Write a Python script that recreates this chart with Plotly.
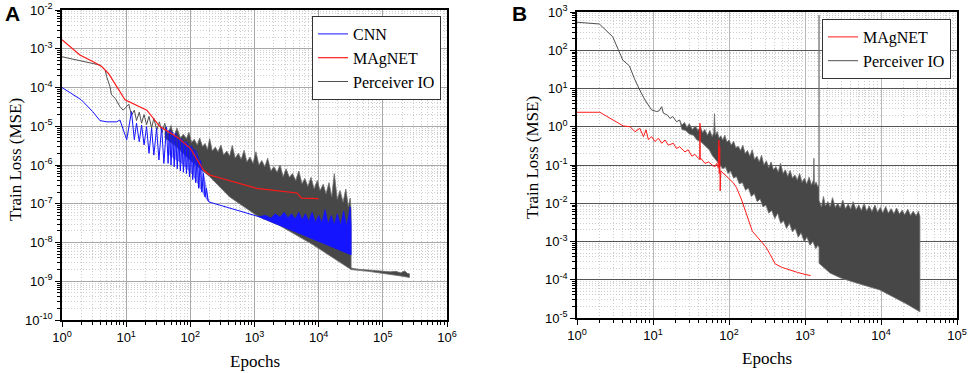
import plotly.graph_objects as go

W, H = 969, 373

# ---------------- Panel A data ----------------
a_cnn_x = [1, 2, 3, 3.9, 5, 6, 7.1, 8.0, 9.0, 10.2, 12.1, 13.4, 14.5, 16, 17.4, 19, 20.8, 22.7, 24.9,
           27, 29.8, 32.4, 35.7, 38.7, 42.5, 45, 47.5, 50, 53, 56, 59, 62.5, 66, 70, 74, 78, 82.5, 87,
           92, 97, 103, 109, 115, 121, 128, 135, 143, 151, 160, 169, 178, 189, 200, 1140]
a_cnn_y = [1e-4, 4.8e-5, 2.4e-5, 1.4e-5, 1.3e-5, 1.3e-5, 1.3e-5, 1.45e-5, 8e-6, 4.5e-6, 2.4e-5, 4.5e-6,
           1.2e-5, 4.0e-6, 1.07e-5, 3.3e-6, 9.8e-6, 2.0e-6, 8.9e-6, 1.8e-6, 8.8e-6, 1.35e-6, 9.6e-6,
           1.1e-6, 9.6e-6, 1.1e-6, 8e-6, 1.0e-6, 7e-6, 9e-7, 6.5e-6, 8e-7, 5e-6, 7e-7, 4.5e-6, 6.5e-7,
           4e-6, 6e-7, 3.5e-6, 5e-7, 3e-6, 4.2e-7, 2.5e-6, 3.5e-7, 1.8e-6, 2.5e-7, 1.3e-6, 2e-7, 6e-7,
           1.5e-7, 2.5e-7, 1.2e-7, 1.1e-7, 4.7e-8]
# dense oscillation envelope, epochs ~45-200
a_cnn_osc_hi_x = [45, 50, 55, 60, 66, 72, 80, 88, 97, 105, 115, 125, 135, 145, 155, 165, 178, 190, 200]
a_cnn_osc_hi_y = [8e-6, 7.5e-6, 5.5e-6, 6.5e-6, 4.5e-6, 5e-6, 3.5e-6, 4e-6, 2.8e-6, 3.2e-6, 2.2e-6,
                  2.4e-6, 1.5e-6, 1.3e-6, 8e-7, 5e-7, 2.5e-7, 1.3e-7, 1.1e-7]
a_cnn_osc_lo_x = [45, 55, 70, 90, 110, 130, 150, 170, 190, 200]
a_cnn_osc_lo_y = [2e-6, 1.5e-6, 1.2e-6, 8e-7, 5.5e-7, 3.5e-7, 2.2e-7, 1.5e-7, 1.15e-7, 1.1e-7]
# late noisy band, epochs ~1e3-3.2e4
a_cnn_hi_x = [1140, 1200, 1500, 1800, 2100, 2500, 2900, 3300, 3800, 4300, 4900, 5500, 6200, 7000, 7900,
              8900, 10000, 11200, 12600, 14000, 15800, 17500, 19500, 22000, 24500, 27000, 29500, 31000, 32000]
a_cnn_hi_y = [4.7e-8, 4.7e-8, 5e-8, 4.2e-8, 5.5e-8, 4.5e-8, 6e-8, 4.3e-8, 5.5e-8, 4e-8, 6e-8, 3.8e-8,
              5.5e-8, 3.5e-8, 6e-8, 3.3e-8, 5e-8, 3.2e-8, 7e-8, 3e-8, 5e-8, 2.8e-8, 5.5e-8, 2.7e-8,
              6.5e-8, 2.6e-8, 5e-8, 8.3e-8, 2.8e-8]
a_cnn_lo_x = [1140, 32000]
a_cnn_lo_y = [4.7e-8, 4.8e-9]

a_mag_x = [1, 1.9, 3.07, 4.15, 5.3, 9.6, 21, 33.5, 61, 100, 160, 200, 1070, 4000, 4600, 5400, 10000]
a_mag_y = [1.7e-3, 6.9e-4, 4.6e-4, 3.5e-4, 2.3e-4, 4.8e-5, 2.6e-5, 9.8e-6, 5.4e-6, 2.7e-6, 7.4e-7,
           5.5e-7, 2.5e-7, 2.0e-7, 1.9e-7, 1.4e-7, 1.35e-7]

a_per_x = [1, 3.9, 4.7, 4.97, 5.6, 5.9, 6.8, 8, 9, 11, 12.1, 13.4, 14.5, 16, 17.4, 19, 20.8, 22.7,
           24.9, 27, 30, 33, 36, 40]
a_per_y = [6.2e-4, 3.8e-4, 2.8e-4, 1.9e-4, 1.05e-4, 6.5e-5, 5.2e-5, 3.2e-5, 2.6e-5, 3.7e-5, 1.9e-5,
           2.6e-5, 1.4e-5, 2.3e-5, 1.2e-5, 2.0e-5, 1.1e-5, 1.8e-5, 9e-6, 1.6e-5, 8e-6, 1.3e-5, 6.7e-6, 1.2e-5]
a_per_hi_x = [40, 45, 50, 55, 62, 70, 78, 87, 95, 105, 115, 128, 140, 155, 170, 185, 200, 220, 245, 270,
              300, 330, 370, 410, 450, 500, 560, 620, 690, 760, 850, 950, 1050, 1170, 1300, 1450, 1600,
              1800, 2000, 2250, 2500, 2800, 3100, 3500, 3900, 4400, 4900, 5500, 6100, 6800, 7600, 8500,
              9500, 10500, 11800, 13000, 14500, 16000, 17500, 19500, 21500, 24000, 26500, 29000, 31000,
              32000, 32000, 40000, 60000, 80000, 100000, 130000, 160000, 190000, 220000, 240000, 260000]
a_per_hi_y = [1.2e-5, 6.5e-6, 1.05e-5, 5.5e-6, 9e-6, 5e-6, 6.2e-6, 4.8e-6, 7e-6, 3.8e-6, 4.6e-6, 3.3e-6,
              5e-6, 3e-6, 3.6e-6, 2.5e-6, 4.8e-6, 2.3e-6, 2.9e-6, 2.2e-6, 3.3e-6, 1.8e-6, 2.3e-6, 1.7e-6,
              3.2e-6, 1.5e-6, 2.0e-6, 1.4e-6, 2.4e-6, 1.2e-6, 1.6e-6, 1.1e-6, 2.2e-6, 1.0e-6, 1.3e-6,
              9e-7, 1.5e-6, 7e-7, 9e-7, 6.5e-7, 1.0e-6, 5e-7, 8e-7, 4.8e-7, 6e-7, 4e-7, 7e-7, 3.3e-7,
              4.5e-7, 2.8e-7, 4.8e-7, 2.4e-7, 4e-7, 2.2e-7, 3.2e-7, 1.8e-7, 3.5e-7, 1.5e-7, 6e-7, 1.3e-7,
              2.2e-7, 1.1e-7, 2.4e-7, 8.5e-8, 1.4e-7, 7e-8, 2.2e-9, 2.05e-9, 1.95e-9, 1.9e-9, 1.85e-9,
              1.75e-9, 1.8e-9, 1.65e-9, 1.85e-9, 1.6e-9, 1.55e-9]
a_per_lo_x = [40, 60, 100, 200, 410, 1140, 2500, 8200, 32000, 60000, 100000, 150000, 200000, 260000]
a_per_lo_y = [5e-6, 3e-6, 1.3e-6, 5e-7, 1.5e-7, 4.7e-8, 2.7e-8, 8.7e-9, 2.0e-9, 1.8e-9, 1.6e-9,
              1.45e-9, 1.35e-9, 1.25e-9]

# ---------------- Panel B data ----------------
b_mag_x = [1, 2, 4.06, 5, 5.8, 6.7, 7.5, 8.1, 8.7, 9.6, 10.6, 11.8, 13, 14.4, 15.9, 18.5, 20.4, 22.4,
           26.3, 29, 32.5, 35.6, 39.5, 41.2, 41.5, 41.8, 42.5, 48.4, 54, 60, 65, 69, 72, 73.5, 74.5,
           75.5, 76.5, 78, 85, 93, 100, 113, 125, 145, 203, 255, 304, 350, 405, 500, 650, 800, 1000, 1190]
b_mag_y = [2.39, 2.39, 1.05, 1.0, 0.74, 0.91, 0.55, 0.83, 0.46, 0.55, 0.41, 0.5, 0.37, 0.45, 0.33, 0.37,
           0.27, 0.3, 0.22, 0.25, 0.17, 0.19, 0.15, 0.14, 1.23, 0.14, 0.15, 0.11, 0.12, 0.1, 0.09, 0.11,
           0.085, 0.45, 0.06, 0.3, 0.021, 0.07, 0.06, 0.05, 0.045, 0.035, 0.026, 0.013, 1.85e-3, 1.1e-3,
           7.3e-4, 4.5e-4, 2.6e-4, 2.1e-4, 1.75e-4, 1.55e-4, 1.38e-4, 1.28e-4]

b_per_x = [1, 1.97, 2.95, 3.33, 4, 4.9, 5.7, 6.7, 7.85, 9.6, 11.2, 12, 13, 13.7, 15.6, 16.7, 18.2,
           20.4, 22.4]
b_per_y = [540, 486, 225, 124, 55.6, 39, 18, 9.1, 5.0, 2.74, 2.5, 2.6, 3.35, 2.27, 2.0, 1.65, 1.85,
           1.35, 1.5]
b_per_hi_x = [22.4, 24, 26, 28, 30, 33, 36, 39, 42, 45, 48, 52, 56, 60, 63, 64.5, 66, 70, 74, 78, 83,
              88, 94, 100, 107, 115, 123, 132, 142, 152, 163, 175, 188, 202, 217, 233, 250, 268, 288,
              310, 333, 358, 385, 414, 445, 478, 514, 552, 593, 637, 685, 736, 791, 850, 913, 981, 1054,
              1133, 1217, 1290, 1310, 1330, 1400, 1470, 1530, 1530, 1530, 1650, 1750, 1850, 2000, 2150,
              2300, 2500, 2700, 2900, 3150, 3400, 3700, 4000, 4300, 4700, 5100, 5500, 6000, 6500, 7000,
              7600, 8300, 9000, 9800, 10600, 11500, 12500, 13600, 14800, 16000, 17500, 19000, 20500,
              22500, 24500, 26500, 29000, 31000, 32500]
b_per_hi_y = [1.5, 1.1, 1.3, 0.95, 1.2, 0.85, 1.05, 0.8, 1.0, 0.7, 0.85, 0.6, 0.8, 0.55, 0.7, 2.2, 0.6,
              0.75, 0.5, 0.58, 0.45, 0.6, 0.4, 0.45, 0.33, 0.42, 0.28, 0.31, 0.24, 0.33, 0.2, 0.24, 0.17,
              0.25, 0.14, 0.17, 0.12, 0.18, 0.1, 0.13, 0.085, 0.12, 0.075, 0.09, 0.065, 0.11, 0.06, 0.075,
              0.05, 0.072, 0.045, 0.055, 0.04, 0.06, 0.035, 0.045, 0.032, 0.048, 0.03, 0.04, 0.15, 0.03,
              0.036, 0.027, 0.03, 830, 0.012, 0.008, 0.015, 0.0085, 0.011, 0.008, 0.014, 0.0078, 0.01,
              0.0075, 0.012, 0.0072, 0.0095, 0.007, 0.011, 0.0068, 0.009, 0.0065, 0.0095, 0.0063, 0.0085,
              0.006, 0.009, 0.0058, 0.0078, 0.0056, 0.0082, 0.0055, 0.0072, 0.0053, 0.0075, 0.0052,
              0.0066, 0.005, 0.007, 0.0048, 0.0062, 0.0047, 0.0062, 0.0045]
b_per_lo_x = [22.4, 24, 27, 30, 34, 38, 42, 46, 50, 55, 60, 65, 70, 76, 83, 90, 97, 105, 115, 125, 137,
              150, 165, 180, 197, 215, 235, 257, 280, 306, 334, 365, 400, 437, 478, 522, 571, 624, 682,
              745, 814, 890, 973, 1063, 1162, 1270, 1388, 1470, 1530, 1530, 1700, 2130, 3000, 5000, 9700,
              15000, 22000, 32500]
b_per_lo_y = [1.5, 0.85, 0.8, 0.65, 0.6, 0.45, 0.42, 0.35, 0.3, 0.25, 0.18, 0.15, 0.13, 0.1, 0.08, 0.09,
              0.06, 0.07, 0.045, 0.05, 0.032, 0.035, 0.022, 0.025, 0.015, 0.018, 0.011, 0.013, 0.008,
              0.009, 0.0055, 0.0065, 0.004, 0.0055, 0.003, 0.0035, 0.0022, 0.003, 0.0018, 0.0022,
              0.0013, 0.0017, 0.001, 0.0013, 8e-4, 0.001, 6.5e-4, 8e-4, 7e-4, 2.7e-4, 2.2e-4, 1.5e-4,
              1.1e-4, 8e-5, 5.4e-5, 3.5e-5, 2.3e-5, 1.45e-5]

# ---------------- tick labels ----------------
a_xtick_vals = [1, 10, 100, 1e3, 1e4, 1e5, 1e6]
a_xtick_text = ["10<sup>0</sup>", "10<sup>1</sup>", "10<sup>2</sup>", "10<sup>3</sup>",
                "10<sup>4</sup>", "10<sup>5</sup>", "10<sup>6</sup>"]
a_ytick_vals = [1e-10, 1e-9, 1e-8, 1e-7, 1e-6, 1e-5, 1e-4, 1e-3, 1e-2]
a_ytick_text = ["10<sup>-10</sup>", "10<sup>-9</sup>", "10<sup>-8</sup>", "10<sup>-7</sup>",
                "10<sup>-6</sup>", "10<sup>-5</sup>", "10<sup>-4</sup>", "10<sup>-3</sup>", "10<sup>-2</sup>"]
b_xtick_vals = [1, 10, 100, 1e3, 1e4, 1e5]
b_xtick_text = ["10<sup>0</sup>", "10<sup>1</sup>", "10<sup>2</sup>", "10<sup>3</sup>",
                "10<sup>4</sup>", "10<sup>5</sup>"]
b_ytick_vals = [1e-5, 1e-4, 1e-3, 1e-2, 1e-1, 1, 10, 100, 1000]
b_ytick_text = ["10<sup>-5</sup>", "10<sup>-4</sup>", "10<sup>-3</sup>", "10<sup>-2</sup>",
                "10<sup>-1</sup>", "10<sup>0</sup>", "10<sup>1</sup>", "10<sup>2</sup>", "10<sup>3</sup>"]

BLUE = "#1414ff"
RED = "#ff1a1a"
GRAY = "#474747"
GRAY_EDGE = "#6e6e6e"

fig = go.Figure()


def band(xh, yh, xl, yl, color, edge, xa, ya, width=0.8):
    fig.add_trace(go.Scatter(x=list(xh) + list(xl)[::-1], y=list(yh) + list(yl)[::-1],
                             mode="lines", fill="toself", fillcolor=color,
                             line=dict(color=edge, width=width), hoverinfo="skip",
                             showlegend=False, xaxis=xa, yaxis=ya))


def line(x, y, color, name, xa, ya, legend, rank, width=1):
    fig.add_trace(go.Scatter(x=x, y=y, mode="lines", name=name,
                             line=dict(color=color, width=width),
                             showlegend=True, legend=legend, legendrank=rank,
                             xaxis=xa, yaxis=ya))


# Panel A (Perceiver under CNN under MAgNET)
band(a_per_hi_x, a_per_hi_y, a_per_lo_x, a_per_lo_y, GRAY, GRAY_EDGE, "x", "y")
line(a_per_x, a_per_y, "#505050", "Perceiver IO", "x", "y", "legend", 3)
band(a_cnn_osc_hi_x, a_cnn_osc_hi_y, a_cnn_osc_lo_x, a_cnn_osc_lo_y,
     "rgba(20,20,255,0.45)", "rgba(20,20,255,0.6)", "x", "y", width=0.6)
band(a_cnn_hi_x, a_cnn_hi_y, a_cnn_lo_x, a_cnn_lo_y, BLUE, BLUE, "x", "y")
line(a_cnn_x, a_cnn_y, BLUE, "CNN", "x", "y", "legend", 1)
line(a_mag_x, a_mag_y, RED, "MAgNET", "x", "y", "legend", 2, width=1.2)

# Panel B
band(b_per_hi_x, b_per_hi_y, b_per_lo_x, b_per_lo_y, GRAY, GRAY_EDGE, "x2", "y2")
line(b_per_x, b_per_y, "#505050", "Perceiver IO", "x2", "y2", "legend2", 2)
line(b_mag_x, b_mag_y, RED, "MAgNET", "x2", "y2", "legend2", 1)


def minor_vals(lo, hi):
    return [m * 10.0 ** k for k in range(lo, hi) for m in range(2, 10)]


TICKFONT = dict(family="Liberation Sans, Arial", size=13, color="black")
common = dict(type="log", showline=True, linecolor="black", linewidth=1.5, mirror=True,
              ticks="outside", ticklen=5, tickwidth=1.2, tickcolor="black", automargin=False,
              tickfont=TICKFONT, tickmode="array", zeroline=False, layer="above traces")


def minor(lo, hi):
    return dict(tickmode="array", tickvals=minor_vals(lo, hi), ticks="outside", ticklen=3,
                tickcolor="black", tickwidth=1, showgrid=True, gridcolor="#cfcfcf",
                griddash="1px,2px", gridwidth=1)


x0a, x1a = 62 / W, 447 / W
ya0, ya1 = 1 - 320 / H, 1 - 10 / H
x0b, x1b = 577 / W, 957 / W
yb0, yb1 = 1 - 318 / H, 1 - 12 / H

fig.update_layout(
    width=W, height=H, margin=dict(l=0, r=0, t=0, b=0, autoexpand=False),
    paper_bgcolor="white", plot_bgcolor="white",
    xaxis=dict(**common, domain=[x0a, x1a], range=[0, 6], anchor="y",
               tickvals=a_xtick_vals, ticktext=a_xtick_text, gridcolor="#a8a8a8", gridwidth=1,
               minor=minor(0, 6)),
    yaxis=dict(**common, domain=[ya0, ya1], range=[-10, -2], anchor="x",
               tickvals=a_ytick_vals, ticktext=a_ytick_text, gridcolor="#a8a8a8", gridwidth=1,
               minor=minor(-10, -2)),
    xaxis2=dict(**common, domain=[x0b, x1b], range=[0, 5], anchor="y2",
                tickvals=b_xtick_vals, ticktext=b_xtick_text, gridcolor="#b8b8b8", gridwidth=1,
                minor=minor(0, 5)),
    yaxis2=dict(**common, domain=[yb0, yb1], range=[-5, 3], anchor="x2",
                tickvals=b_ytick_vals, ticktext=b_ytick_text, gridcolor="#555555", gridwidth=1,
                minor=minor(-5, 3)),
    legend=dict(x=441 / W, xanchor="right", y=1 - 16 / H, yanchor="top",
                bgcolor="white", bordercolor="#333333", borderwidth=1,
                font=dict(family="Liberation Serif, Times New Roman", size=16, color="black"),
                tracegroupgap=0),
    legend2=dict(x=951 / W, xanchor="right", y=1 - 19 / H, yanchor="top",
                 bgcolor="white", bordercolor="#333333", borderwidth=1,
                 font=dict(family="Liberation Serif, Times New Roman", size=16, color="black"),
                 tracegroupgap=0),
    showlegend=True,
)

SERIF = dict(family="Liberation Serif, Times New Roman", size=17, color="black")
ann = [
    dict(text="Train Loss (MSE)", x=15 / W, y=1 - 160 / H, textangle=-90, font=SERIF),
    dict(text="Train Loss (MSE)", x=532 / W, y=1 - 158 / H, textangle=-90, font=SERIF),
    dict(text="Epochs", x=255 / W, y=1 - 361 / H, font=SERIF),
    dict(text="Epochs", x=767 / W, y=1 - 358 / H, font=SERIF),
    dict(text="<b>A</b>", x=12 / W, y=1 - 13 / H,
         font=dict(family="Liberation Sans, Arial", size=21, color="black")),
    dict(text="<b>B</b>", x=519 / W, y=1 - 13 / H,
         font=dict(family="Liberation Sans, Arial", size=21, color="black")),
]
for a in ann:
    a.update(xref="paper", yref="paper", showarrow=False, xanchor="center", yanchor="middle")
fig.update_layout(annotations=ann)

fig.write_html("out.html", config={"displayModeBar": False},
               post_script="document.body.style.margin='0px';")
